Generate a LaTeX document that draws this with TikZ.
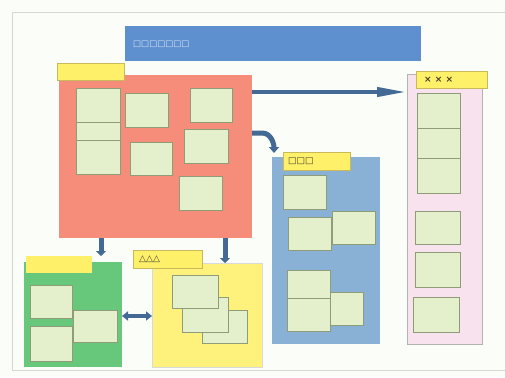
\documentclass[tikz,border=0pt]{standalone}
\usepackage{fontspec}
\newfontfamily\symfont{DejaVu Sans}
\usetikzlibrary{arrows.meta}
\definecolor{bg}{HTML}{FBFDF8}
\definecolor{frame}{HTML}{D4D8D0}
\definecolor{banner}{HTML}{5E8FCF}
\definecolor{redbox}{HTML}{F68C7A}
\definecolor{pinkbox}{HTML}{F8E2EE}
\definecolor{bluebox}{HTML}{88B1D5}
\definecolor{greenbox}{HTML}{67C77A}
\definecolor{yelbox}{HTML}{FFF27C}
\definecolor{tabfill}{HTML}{FFF06A}
\definecolor{tabline}{HTML}{C9B95A}
\definecolor{cellfill}{HTML}{E3F0CB}
\definecolor{cellline}{HTML}{8F9C78}
\definecolor{arrowc}{HTML}{436A94}
\tikzset{
  box/.style={draw=none, anchor=north west, inner sep=0pt, outer sep=0pt},
  cell/.style={box, fill=cellfill, draw=cellline, line width=0.9pt},
  tab/.style={box, fill=tabfill, draw=tabline, line width=0.7pt},
  tablabel/.style={font=\symfont\bfseries\fontsize{9}{10}\selectfont, text=black!70!olive, anchor=west, inner sep=0pt},
  fat/.style={draw=arrowc, line width=5pt},
}
\newcommand\bx[6]{\node[#1, minimum width=#4pt-#2pt, minimum height=#5pt-#3pt] (#6) at (#2,#3) {};}
\begin{document}
\begin{tikzpicture}[x=1pt,y=-1pt]
\path[fill=bg] (0,0) rectangle (505,377);
\useasboundingbox (0,0) rectangle (505,377);
\draw[frame, line width=1pt] (505,13) -- (12,13) -- (12,370) -- (505,370);
% banner
\bx{box, fill=banner}{125}{26}{421}{61}{banner}
\node[font=\symfont\fontsize{8.5}{9}\selectfont, text=white!80!banner, anchor=west, inner sep=0pt] (bannertext) at (133,44) {□□□□□□□};
% red box
\bx{box, fill=redbox}{59}{75}{252}{238}{red}
\bx{tab}{57}{63}{124}{80}{redtab}
\bx{cell}{76}{88}{120}{122}{r1}
\bx{cell}{76}{122}{120}{140}{r2}
\bx{cell}{76}{140}{120}{174}{r3}
\bx{cell}{125}{93}{168}{127}{r4}
\bx{cell}{190}{88}{232}{122}{r5}
\bx{cell}{130}{142}{172}{175}{r6}
\bx{cell}{184}{129}{228}{163}{r7}
\bx{cell}{179}{176}{222}{210}{r8}
% pink box
\bx{box, fill=pinkbox, draw=black!30, line width=0.8pt}{407}{74}{482}{344}{pink}
\bx{tab}{416}{71}{487}{88}{pinktab}
\node[tablabel] (pinklabel) at (424,79.5) {× × ×};
\bx{cell}{417}{93}{460}{128}{p1}
\bx{cell}{417}{128}{460}{158}{p2}
\bx{cell}{417}{158}{460}{193}{p3}
\bx{cell}{415}{211}{460}{244}{p4}
\bx{cell}{415}{252}{460}{287}{p5}
\bx{cell}{413}{297}{459}{332}{p6}
% blue box
\bx{box, fill=bluebox}{272}{157}{380}{344}{blue}
\bx{tab}{283}{152}{350}{170}{bluetab}
\node[tablabel] (bluelabel) at (288,161) {□□□};
\bx{cell}{283}{175}{326}{209}{b1}
\bx{cell}{288}{217}{331}{250}{b2}
\bx{cell}{332}{211}{375}{244}{b3}
\bx{cell}{287}{270}{330}{298}{b4}
\bx{cell}{287}{298}{330}{331}{b5}
\bx{cell}{330}{292}{363}{325}{b6}
% green box
\bx{box, fill=greenbox}{24}{262}{122}{367}{green}
\bx{box, fill=tabfill}{26}{256}{92}{273}{greentab}
\bx{cell}{30}{285}{72}{318}{g1}
\bx{cell}{30}{326}{72}{361}{g2}
\bx{cell}{73}{310}{117}{342}{g3}
% yellow box
\bx{box, fill=yelbox, draw=black!15, line width=0.6pt}{152}{263}{262}{367}{yellow}
\bx{tab}{133}{250}{202}{268}{yeltab}
\node[tablabel] (yellabel) at (139,259) {△△△};
\bx{cell}{202}{310}{247}{343}{y3}
\bx{cell}{182}{297}{228}{332}{y2}
\bx{cell}{172}{275}{218}{308}{y1}
% arrows
\draw[fat, line width=4pt, -{Triangle[length=30pt,width=9pt]}] (red.east |- 0,92) -- (pink.west |- 0,92);
\draw[fat, line width=5pt, -{Triangle[length=6pt,width=10pt]}] (red.east |- 0,133) -- (262,133) to[out=0,in=90] (274,153);
\draw[fat, line width=5pt, -{Triangle[length=5pt,width=10pt]}] (red.south -| 101,0) -- (greentab.north -| 101,0);
\draw[fat, line width=5pt, -{Triangle[length=5pt,width=10pt]}] (red.south -| 225,0) -- (yellow.north -| 225,0);
\draw[fat, line width=4pt, {Triangle[length=6pt,width=9pt]}-{Triangle[length=6pt,width=9pt]}] (green.east |- 0,316) -- (yellow.west |- 0,316);
\end{tikzpicture}
\end{document}
